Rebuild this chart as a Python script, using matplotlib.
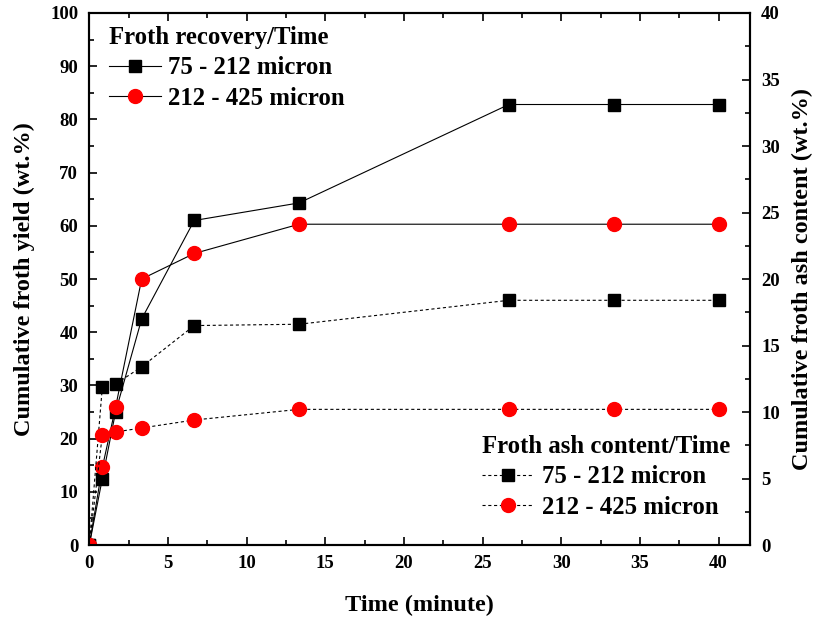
import matplotlib
matplotlib.use("Agg")
import matplotlib.pyplot as plt
from matplotlib.ticker import MultipleLocator

# Flotation time (minutes)
time_min = [0, 0.83, 1.67, 3.33, 6.67, 13.33, 26.67, 33.33, 40]

# Cumulative froth yield (wt.%) - left axis
recovery_75_212 = [0, 12.5, 25.0, 42.5, 61.0, 64.3, 82.8, 82.8, 82.8]
recovery_212_425 = [0, 14.6, 25.9, 50.0, 54.8, 60.3, 60.3, 60.3, 60.3]

# Cumulative froth ash content (wt.%) - right axis
ash_75_212 = [0, 11.9, 12.1, 13.4, 16.5, 16.6, 18.4, 18.4, 18.4]
ash_212_425 = [0, 8.3, 8.5, 8.8, 9.4, 10.2, 10.2, 10.2, 10.2]

series_labels = ["75 - 212 micron", "212 - 425 micron"]

plt.rcParams["font.family"] = ["Liberation Serif", "DejaVu Serif"]
plt.rcParams["font.weight"] = "bold"

fig = plt.figure(figsize=(8.17, 6.19), dpi=100)
ax = fig.add_axes([0.1093, 0.1195, 0.8087, 0.8595])
ax2 = ax.twinx()

lw = 0.8
dash = (0, (2.8, 2.4))
sq = dict(marker="s", markersize=8.3, markerfacecolor="black", markeredgecolor="black", color="black")
ci = dict(marker="o", markersize=10, markerfacecolor="red", markeredgecolor="red", color="black")

h1, = ax.plot(time_min, recovery_75_212, linewidth=lw, linestyle="-", **sq)
h2, = ax.plot(time_min, recovery_212_425, linewidth=lw, linestyle="-", **ci)
h3, = ax2.plot(time_min, ash_75_212, linewidth=lw, linestyle=dash, **sq)
h4, = ax2.plot(time_min, ash_212_425, linewidth=lw, linestyle=dash, **ci)

ax.set_xlim(0, 42)
ax.set_ylim(0, 100)
ax2.set_ylim(0, 40)

ax.xaxis.set_major_locator(MultipleLocator(5))
ax.xaxis.set_minor_locator(MultipleLocator(2.5))
ax.yaxis.set_major_locator(MultipleLocator(10))
ax.yaxis.set_minor_locator(MultipleLocator(5))
ax2.yaxis.set_major_locator(MultipleLocator(5))
ax2.yaxis.set_minor_locator(MultipleLocator(2.5))

tick_fs = 13.5
ax.tick_params(axis="x", which="both", direction="in", top=True, labelsize=tick_fs, pad=7)
ax.tick_params(axis="y", which="both", direction="in", right=False, labelsize=tick_fs, pad=8)
ax2.tick_params(axis="y", which="both", direction="in", labelsize=tick_fs, pad=8)
for a in (ax, ax2):
    a.tick_params(which="major", length=6, width=1.2)
    a.tick_params(which="minor", length=3.5, width=1.2)
    for s in a.spines.values():
        s.set_linewidth(1.5)

label_fs = 17.5
ax.set_xlabel("Time (minute)", fontsize=label_fs, fontweight="bold", labelpad=17)
ax.set_ylabel("Cumulative froth yield (wt.%)", fontsize=label_fs, fontweight="bold", labelpad=11)
ax2.set_ylabel("Cumulative froth ash content (wt.%)", fontsize=label_fs, fontweight="bold", labelpad=9)

leg_fs = 17.8
leg_kw = dict(frameon=False, fontsize=leg_fs, title_fontsize=leg_fs, handlelength=2.1,
              handletextpad=0.3, labelspacing=0.3, alignment="left", borderpad=0.2)
leg1 = ax2.legend([h1, h2], series_labels, title="Froth recovery/Time",
                  loc="upper left", bbox_to_anchor=(0.003, 1.008), **leg_kw)
leg1.get_title().set_fontweight("bold")
ax2.add_artist(leg1)
leg2 = ax2.legend([h3, h4], series_labels, title="Froth ash content/Time",
                  loc="lower right", bbox_to_anchor=(0.997, 0.017), **leg_kw)
leg2.get_title().set_fontweight("bold")

fig.savefig("out.png", dpi=100)
